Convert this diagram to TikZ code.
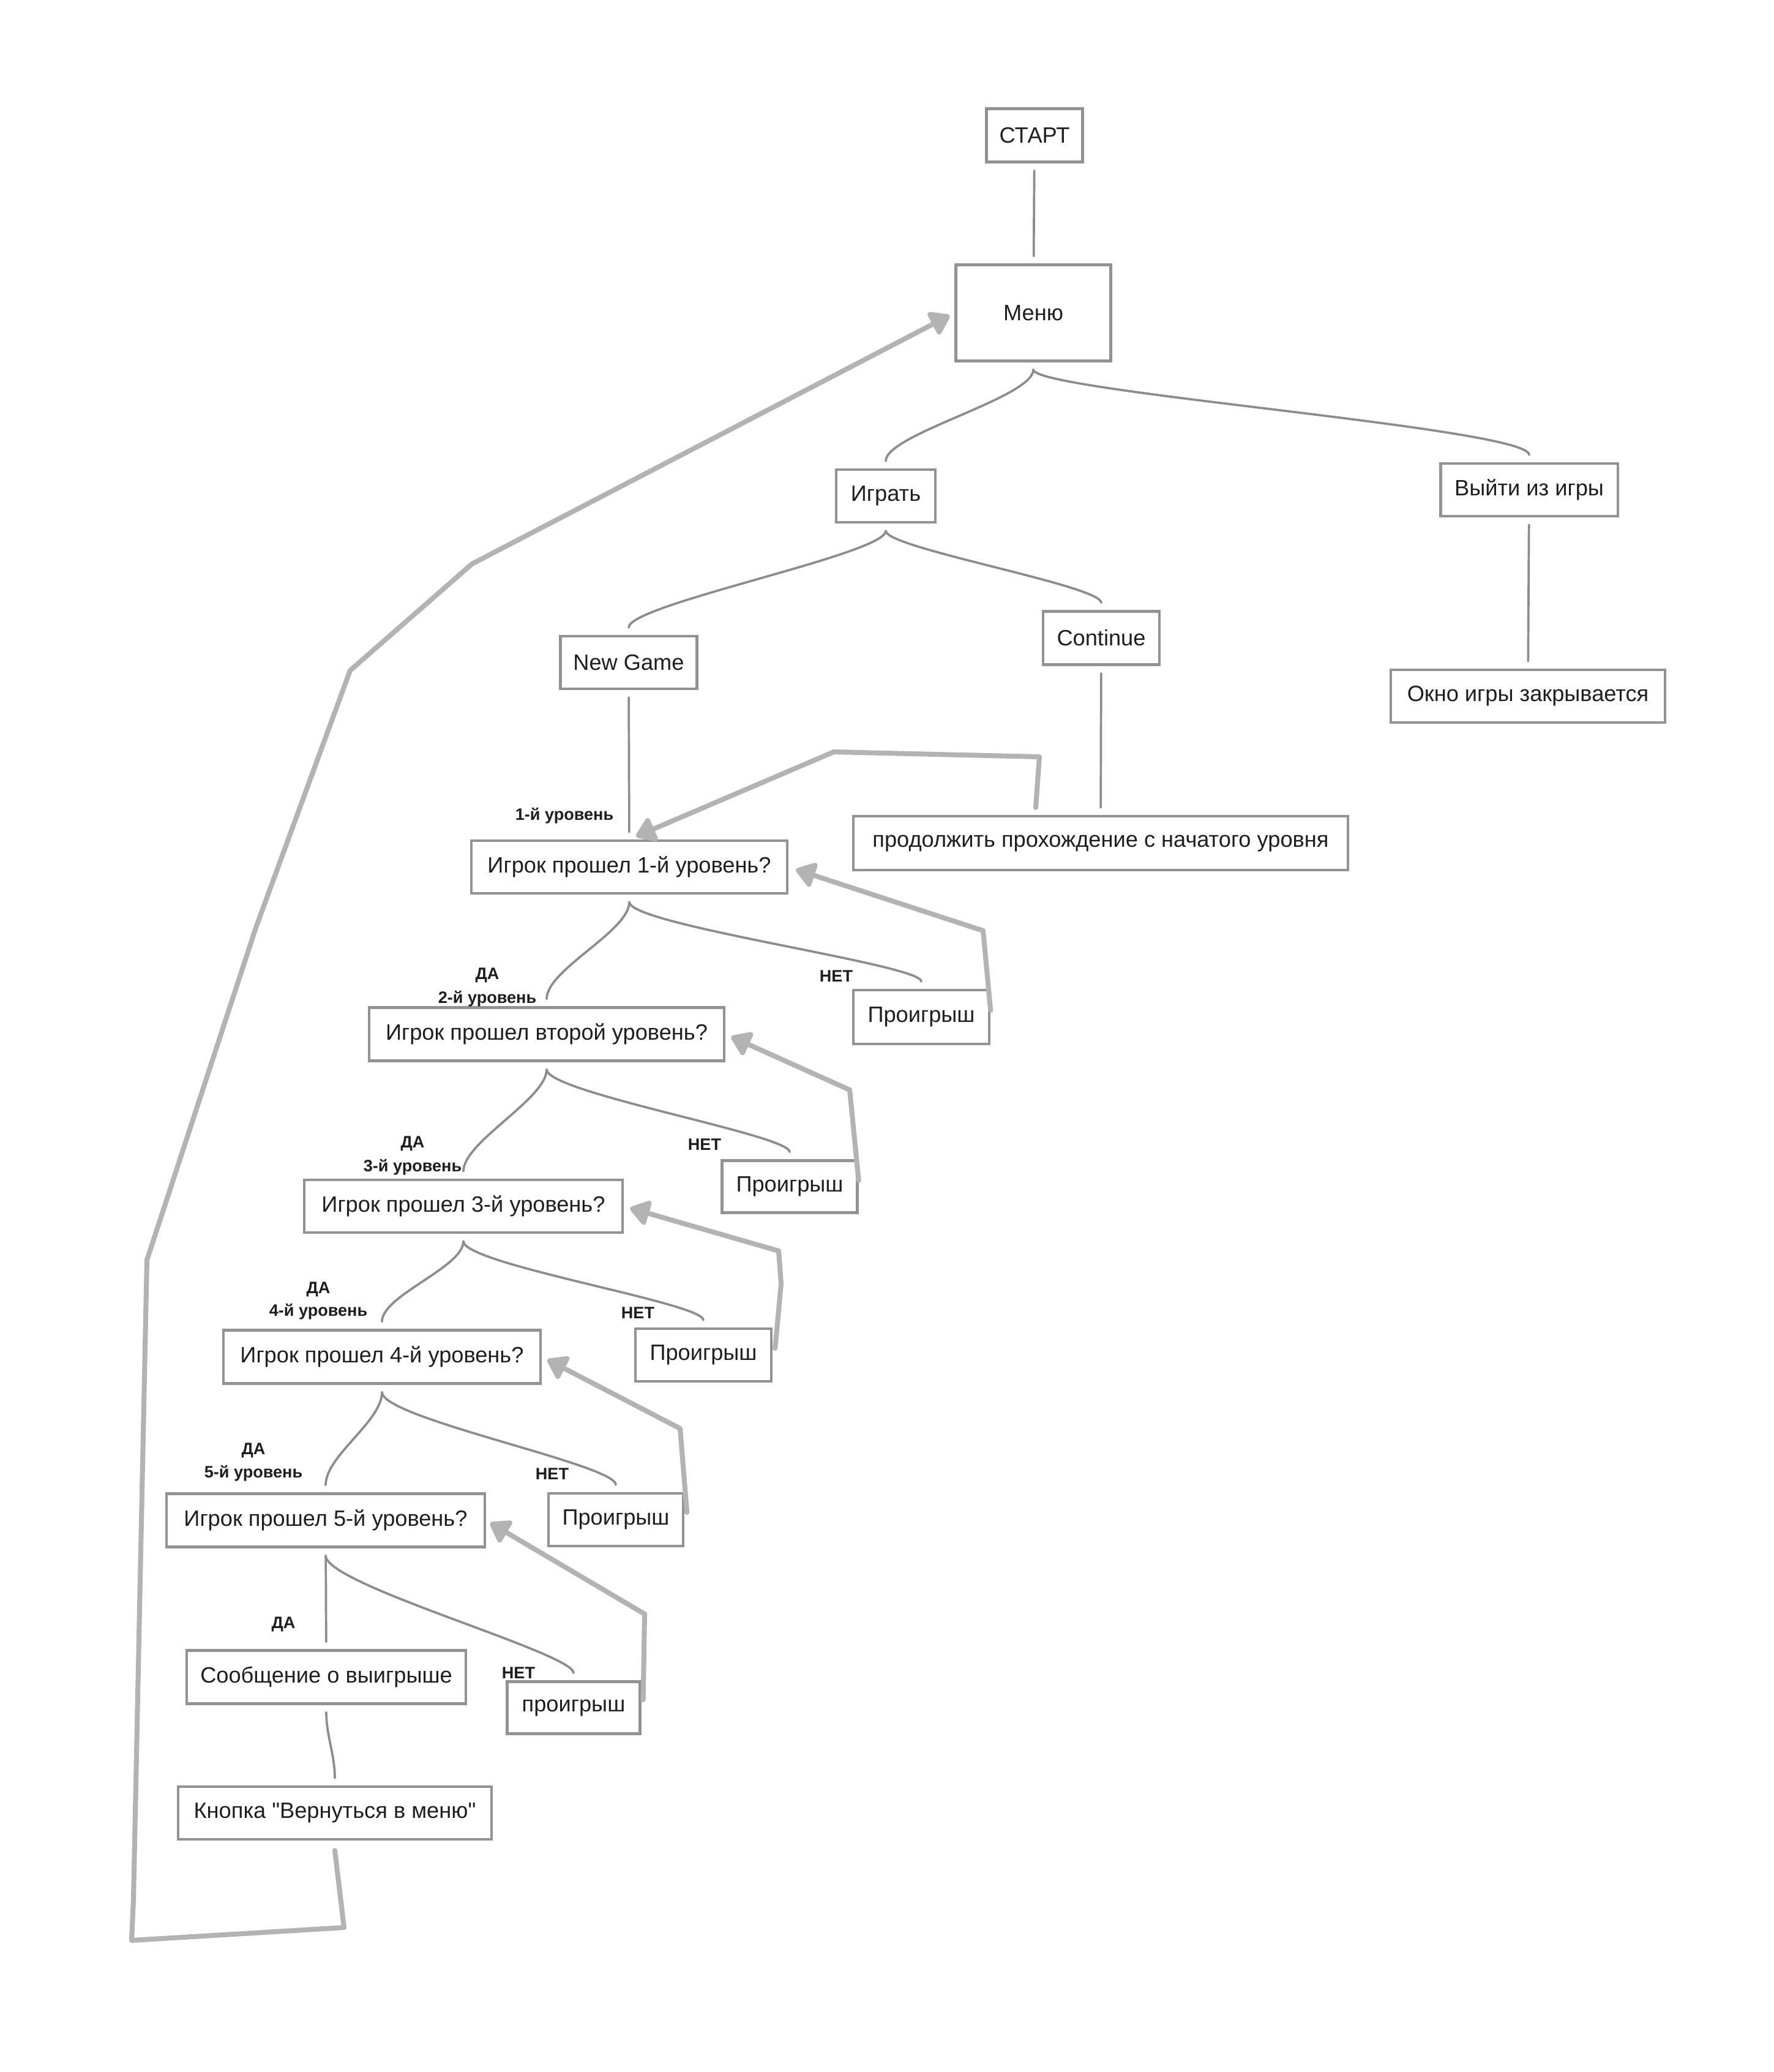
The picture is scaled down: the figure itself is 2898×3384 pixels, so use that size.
\documentclass[tikz,border=0pt]{standalone}
\usepackage{fontspec}
\setmainfont{Liberation Sans}[Ligatures=TeXOff]
\usetikzlibrary{arrows.meta}
\definecolor{boxgray}{HTML}{929292}
\definecolor{linegray}{HTML}{8C8C8C}
\definecolor{retgray}{HTML}{B3B3B3}
\definecolor{ink}{HTML}{1E1E1E}

\begin{document}
\begin{tikzpicture}[x=0.01cm, y=-0.01cm, >={Triangle[length=10pt,width=13pt,round]},
  box/.style={draw=boxgray, line width=1.2pt, inner sep=0pt, minimum height=0.86cm,
    text=ink, font=\fontsize{10.3}{12}\selectfont},
  lbl/.style={text=ink, font=\fontsize{7.7}{9}\selectfont\bfseries},
  link/.style={draw=linegray, line width=1.05pt, line cap=round, shorten <=0.12cm, shorten >=0.12cm},
  ret/.style={draw=retgray, line width=2.3pt, line cap=round, line join=round, ->}]
  \useasboundingbox (0,0) rectangle (2898,3384);

  \node[box, minimum width=1.57cm, minimum height=0.87cm] (start) at (1690,221) {СТАРТ};
  \node[box, minimum width=2.53cm, minimum height=1.57cm] (menu) at (1688,511) {Меню};
  \node[box, minimum width=1.62cm] (play) at (1447,810) {Играть};
  \node[box, minimum width=2.89cm] (quit) at (2498,800) {Выйти из игры};
  \node[box, minimum width=4.48cm] (closed) at (2496,1137) {Окно игры закрывается};
  \node[box, minimum width=2.23cm] (newgame) at (1027,1082) {New Game};
  \node[box, minimum width=1.90cm, minimum height=0.87cm] (cont) at (1799,1042) {Continue};
  \node[box, minimum width=8.08cm, minimum height=0.88cm] (resume) at (1798,1377) {продолжить прохождение с начатого уровня};

  \node[box, minimum width=5.15cm] (lvl1) at (1028,1416) {Игрок прошел 1-й уровень?};
  \node[box, minimum width=5.80cm, minimum height=0.87cm] (lvl2) at (893,1689) {Игрок прошел второй уровень?};
  \node[box, minimum width=5.19cm] (lvl3) at (757,1970) {Игрок прошел 3-й уровень?};
  \node[box, minimum width=5.18cm, minimum height=0.87cm] (lvl4) at (624,2216) {Игрок прошел 4-й уровень?};
  \node[box, minimum width=5.19cm, minimum height=0.87cm] (lvl5) at (532,2483) {Игрок прошел 5-й уровень?};
  \node[box, minimum width=2.22cm, minimum height=0.88cm] (lose1) at (1505,1661) {Проигрыш};
  \node[box, minimum width=2.21cm, minimum height=0.85cm] (lose2) at (1290,1938) {Проигрыш};
  \node[box, minimum width=2.22cm] (lose3) at (1149,2213) {Проигрыш};
  \node[box, minimum width=2.20cm] (lose4) at (1006,2482) {Проигрыш};
  \node[box, minimum width=2.17cm, minimum height=0.85cm] (lose5) at (937,2789) {проигрыш};
  \node[box, minimum width=4.56cm, minimum height=0.87cm] (win) at (533,2739) {Сообщение о выигрыше};
  \node[box, minimum width=5.12cm] (tomenu) at (547,2961) {Кнопка "Вернуться в меню"};

  \node[lbl] (lv1) at (922,1332) {1-й уровень};
  \node[lbl] (yes1) at (796,1593) {ДА};
  \node[lbl] (lv2) at (796,1631) {2-й уровень};
  \node[lbl] (no1) at (1366,1594) {НЕТ};
  \node[lbl] (yes2) at (674,1868) {ДА};
  \node[lbl] (lv3) at (674,1906) {3-й уровень};
  \node[lbl] (no2) at (1151,1869) {НЕТ};
  \node[lbl] (yes3) at (520,2106) {ДА};
  \node[lbl] (lv4) at (520,2142) {4-й уровень};
  \node[lbl] (no3) at (1042,2144) {НЕТ};
  \node[lbl] (yes4) at (414,2369) {ДА};
  \node[lbl] (lv5) at (414,2406) {5-й уровень};
  \node[lbl] (no4) at (902,2407) {НЕТ};
  \node[lbl] (yes5) at (463,2653) {ДА};
  \node[lbl] (no5) at (847,2732) {НЕТ};

  \draw[link] (start) -- (menu);
  \draw[link] (menu.south) .. controls +(0,58) and +(0,-56) .. (play.north);
  \draw[link] (menu.south) .. controls +(0,48) and +(0,-56) .. (quit.north);
  \draw[link] (quit) -- (closed);
  \draw[link] (play.south) .. controls +(0,50) and +(0,-50) .. (newgame.north);
  \draw[link] (play.south) .. controls +(0,40) and +(0,-40) .. (cont.north);
  \draw[link] (newgame) -- (lvl1);
  \draw[link] (cont) -- (resume);
  \draw[link] (lvl1.south) .. controls +(0,60) and +(0,-60) .. (lvl2.north);
  \draw[link] (lvl1.south) .. controls +(0,50) and +(0,-40) .. (lose1.north);
  \draw[link] (lvl2.south) .. controls +(0,60) and +(0,-60) .. (lvl3.north);
  \draw[link] (lvl2.south) .. controls +(0,50) and +(0,-40) .. (lose2.north);
  \draw[link] (lvl3.south) .. controls +(0,55) and +(0,-55) .. (lvl4.north);
  \draw[link] (lvl3.south) .. controls +(0,50) and +(0,-40) .. (lose3.north);
  \draw[link] (lvl4.south) .. controls +(0,60) and +(0,-60) .. (lvl5.north);
  \draw[link] (lvl4.south) .. controls +(0,55) and +(0,-45) .. (lose4.north);
  \draw[link] (lvl5) -- (win);
  \draw[link] (lvl5.south) .. controls +(0,60) and +(0,-45) .. (lose5.north);
  \draw[link] (win.south) .. controls +(0,50) and +(0,-50) .. (tomenu.north);

  \coordinate (r1) at (562,3148);
  \coordinate (r2) at (215,3169);
  \coordinate (r3) at (218,3103);
  \coordinate (r4) at (240,2058);
  \coordinate (r5) at (418,1515);
  \coordinate (r6) at (572,1095);
  \coordinate (r7) at (771,921);
  \draw[ret, shorten >=0.09cm] ([yshift=-0.16cm]tomenu.south) -- (r1) -- (r2) -- (r3) -- (r4)
    -- (r5) -- (r6) -- (r7) -- (menu.west);

  \coordinate (c1) at (1698,1236);
  \coordinate (c2) at (1362,1228);
  \draw[ret, shorten >=0.12cm] ([xshift=-1.06cm, yshift=0.12cm]resume.north) -- (c1) -- (c2) -- (lvl1.north);

  \coordinate (b1) at (1606,1520);
  \coordinate (b2) at (1388,1780);
  \coordinate (b3) at (1276,2097);
  \coordinate (b3a) at (1272,2043);
  \coordinate (b4) at (1111,2333);
  \coordinate (b5) at (1053,2636);
  \draw[ret, shorten >=0.13cm] ([yshift=0.11cm]lose1.east) -- (b1) -- (lvl1.east);
  \draw[ret, shorten >=0.1cm] ([yshift=0.1cm]lose2.east) -- (b2) -- (lvl2.east);
  \draw[ret, shorten >=0.11cm] ([xshift=0.04cm, yshift=0.11cm]lose3.east) -- (b3) -- (b3a) -- (lvl3.east);
  \draw[ret, shorten >=0.1cm] ([xshift=0.04cm, yshift=0.12cm]lose4.east) -- (b4) -- (lvl4.east);
  \draw[ret, shorten >=0.08cm] ([xshift=0.03cm, yshift=0.13cm]lose5.east) -- (b5) -- (lvl5.east);
\end{tikzpicture}
\end{document}
